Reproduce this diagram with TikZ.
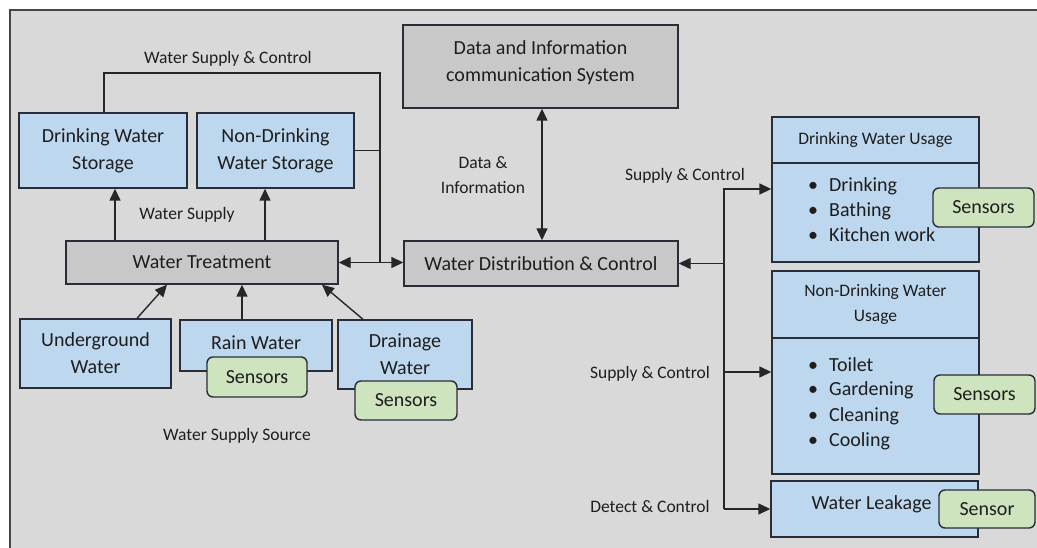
\documentclass[tikz,border=0pt]{standalone}
\usepackage{fontspec}
\setmainfont{Carlito}
\usetikzlibrary{arrows.meta,calc}

\definecolor{panelbg}{RGB}{217,217,217}
\definecolor{panelline}{RGB}{70,70,70}
\definecolor{greybox}{RGB}{200,200,200}
\definecolor{bluebox}{RGB}{189,215,238}
\definecolor{greenbox}{RGB}{206,228,190}
\definecolor{edge}{RGB}{40,45,55}
\definecolor{ink}{RGB}{30,30,30}

\tikzset{
  box/.style={draw=edge, line width=1.4pt, inner sep=0pt, text=ink, align=center,
              font=\fontsize{20}{27}\selectfont},
  bluenode/.style={box, fill=bluebox},
  greynode/.style={box, fill=greybox},
  sensorbox/.style={box, fill=greenbox, rounded corners=6pt},
  lbl/.style={text=ink, align=center, inner sep=0pt, font=\fontsize{17.5}{25}\selectfont},
  link/.style={draw=black!85, line width=1.4pt},
  arr/.style={link, -{Triangle[length=12pt,width=11pt]}},
  dblarr/.style={link, {Triangle[length=12pt,width=11pt]}-{Triangle[length=12pt,width=11pt]}},
}

\begin{document}
\begin{tikzpicture}[x=1pt,y=-1pt]
\useasboundingbox (0,0) rectangle (1037,548);

% background panel
\fill[panelbg] (10,10) rectangle (1037,548);
\draw[panelline, line width=1.5pt] (10,548) -- (10,10) -- (1037,10);

% storage and treatment
\node[bluenode, minimum width=168pt, minimum height=75pt] (dstore) at (103,150.5) {Drinking Water\\Storage};
\node[bluenode, minimum width=157pt, minimum height=75pt] (nstore) at (275.5,150.5) {Non-Drinking\\Water Storage};
\node[greynode, minimum width=272pt, minimum height=43pt] (treat) at (202,262.5) {Water Treatment};

% control centre
\node[greynode, minimum width=275pt, minimum height=83pt] (datasys) at (540.5,66.5)
  {\raisebox{-1.5pt}[0pt][0pt]{\begin{tabular}{@{}c@{}}Data and Information\\communication System\end{tabular}}};
\node[greynode, minimum width=274pt, minimum height=45pt] (dist) at (541,263.5) {Water Distribution \& Control};

% water sources
\node[bluenode, minimum width=151pt, minimum height=69pt] (under) at (95.5,353.5) {Underground\\Water};
\node[bluenode, minimum width=152pt, minimum height=51pt] (rain) at (256,345.5) {\raisebox{5pt}{Rain Water}};
\node[sensorbox, minimum width=100pt, minimum height=40pt] (rainsens) at (257,377) {Sensors};
\node[bluenode, minimum width=134pt, minimum height=69pt] (drain) at (405,354.5) {Drainage\\Water};
\node[sensorbox, minimum width=102pt, minimum height=39pt] (drainsens) at (406,400.5) {Sensors};

% usage panels
\node[bluenode, minimum width=207pt, minimum height=46pt, font=\fontsize{17.5}{25}\selectfont]
  (dhead) at (875.5,140) {Drinking Water Usage};
\node[bluenode, minimum width=207pt, minimum height=99pt] (dbody) at (875.5,212.5) {};
\node[anchor=west, inner sep=0pt, text=ink, font=\fontsize{20}{25}\selectfont] (dlist) at (808,212)
  {\begin{tabular}{@{}l@{\hspace{11pt}}l@{}}\textbullet & Drinking\\ \textbullet & Bathing\\ \textbullet & Kitchen work\end{tabular}};
\node[sensorbox, minimum width=101pt, minimum height=39pt] (dsens) at (983.5,207.5) {Sensors};

\node[bluenode, minimum width=207pt, minimum height=67pt, font=\fontsize{17.5}{25}\selectfont]
  (nhead) at (875.5,304.5) {Non-Drinking Water\\Usage};
\node[bluenode, minimum width=207pt, minimum height=136pt] (nbody) at (875.5,406) {};
\node[anchor=west, inner sep=0pt, text=ink, font=\fontsize{20}{25}\selectfont] (nlist) at (808,403.5)
  {\begin{tabular}{@{}l@{\hspace{11pt}}l@{}}\textbullet & Toilet\\ \textbullet & Gardening\\ \textbullet & Cleaning\\ \textbullet & Cooling\end{tabular}};
\node[sensorbox, minimum width=101pt, minimum height=39pt] (nsens) at (984.5,394.5) {Sensors};

\node[bluenode, minimum width=207pt, minimum height=56pt] (leak) at (874.5,509)
  {\raisebox{0pt}[0pt][0pt]{Water Leakage}\hspace{6pt}};
\node[sensorbox, minimum width=96pt, minimum height=38pt] (lsens) at (987,509) {Sensor};

% labels
\node[lbl] (lwsc) at (228,59) {Water Supply \& Control};
\node[lbl] (lws) at (187,215) {Water Supply};
\node[lbl] (ldi) at (483,175.5) {Data \&\\Information};
\node[lbl] (lsc1) at (685,176) {Supply \& Control};
\node[lbl] (lsc2) at (650,374) {Supply \& Control};
\node[lbl] (ldc) at (650,506) {Detect \& Control};
\node[lbl] (lwss) at (237,436) {Water Supply Source};

% helper coordinates for the routed lines
\coordinate (tc) at (380,73);
\coordinate (bx) at (724,0);
\coordinate (din) at ([yshift=23.5pt]dbody.west);
\coordinate (nin) at ([yshift=34pt]nbody.west);

% treatment to storage
\draw[arr] ([xshift=12pt]dstore.south |- treat.north) -- ([xshift=12pt]dstore.south);
\draw[arr] ([xshift=-10.5pt]nstore.south |- treat.north) -- ([xshift=-10.5pt]nstore.south);

% storage supply and control loop
\draw[link, line join=miter] ([xshift=1pt]dstore.north) |- (tc) -- (tc |- treat.east);
\draw[link] (nstore.east) -- (nstore.east -| tc);
\draw[dblarr] (treat.east) -- (treat.east -| dist.west);

% data exchange
\draw[dblarr] ([xshift=1.5pt]datasys.south) -- ([xshift=1pt]dist.north);

% sources to treatment
\draw[arr] ([xshift=41.5pt]under.north) -- ([xshift=-35pt]treat.south);
\draw[arr] ([xshift=-14pt]rain.north) -- ([xshift=40pt]treat.south);
\draw[arr] ([xshift=-42pt]drain.north) -- ([xshift=120pt]treat.south);

% distribution bus
\draw[arr, line join=miter] (bx |- leak.west) |- (din);
\draw[arr] (bx |- dist.east) -- (dist.east);
\draw[arr] (bx |- nin) -- (nin);
\draw[arr] (bx |- leak.west) -- (leak.west);
\end{tikzpicture}
\end{document}
